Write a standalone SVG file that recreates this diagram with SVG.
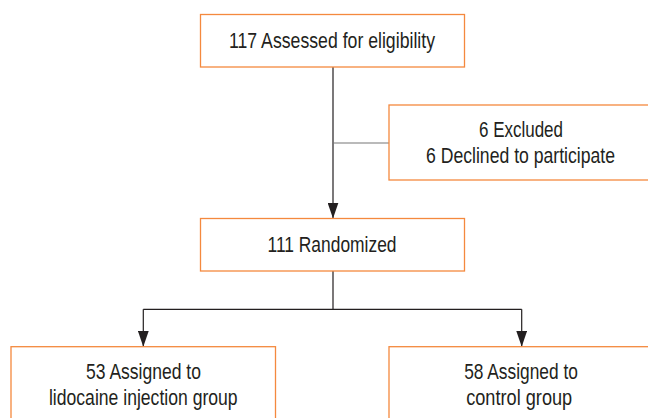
<svg xmlns="http://www.w3.org/2000/svg" width="648" height="418" viewBox="0 0 648 418">
<style>
.box{fill:#fff;stroke:#f4893e;stroke-width:1.3}
.t{font-family:"Liberation Sans",Arial,sans-serif;font-size:22.5px;fill:#231f20;text-anchor:middle}
.ln{fill:none;stroke:#231f20;stroke-width:1.2}
</style>
<defs>
<marker id="ah" markerUnits="userSpaceOnUse" markerWidth="16" markerHeight="11" refX="16" refY="5.5" orient="auto">
<path d="M0,0 L16,5.5 L0,11 z" fill="#231f20"/>
</marker>
</defs>
<rect width="648" height="418" fill="#fff"/>
<g id="connectors">
<path class="ln" d="M333,67 V218.5" marker-end="url(#ah)"/>
<path d="M333,143 H389" fill="none" stroke="#777" stroke-width="1.2"/>
<path class="ln" d="M333,271 V309.3 H143.3"/>
<path class="ln" d="M333,309.3 H521.7"/>
<path class="ln" d="M143.3,309.3 V346.7" marker-end="url(#ah)"/>
<path class="ln" d="M521.7,309.3 V346.7" marker-end="url(#ah)"/>
</g>
<g id="assessed">
<rect class="box" x="200.5" y="14.5" width="264" height="52.5"/>
<text class="t" x="332" y="48.3" textLength="206" lengthAdjust="spacingAndGlyphs">117 Assessed for eligibility</text>
</g>
<g id="excluded">
<rect class="box" x="389" y="105" width="264" height="75"/>
<text class="t" x="521" y="136.7" textLength="84" lengthAdjust="spacingAndGlyphs">6 Excluded</text>
<text class="t" x="520.5" y="162.7" textLength="189" lengthAdjust="spacingAndGlyphs">6 Declined to participate</text>
</g>
<g id="randomized">
<rect class="box" x="200.5" y="218.5" width="264" height="52.5"/>
<text class="t" x="332" y="252" textLength="129" lengthAdjust="spacingAndGlyphs">111 Randomized</text>
</g>
<g id="lidocaine">
<rect class="box" x="11" y="346.7" width="264.5" height="80"/>
<text class="t" x="143.5" y="379" textLength="115" lengthAdjust="spacingAndGlyphs">53 Assigned to</text>
<text class="t" x="143.3" y="405" textLength="188.7" lengthAdjust="spacingAndGlyphs">lidocaine injection group</text>
</g>
<g id="control">
<rect class="box" x="389" y="346.7" width="264" height="80"/>
<text class="t" x="521" y="379" textLength="113.7" lengthAdjust="spacingAndGlyphs">58 Assigned to</text>
<text class="t" x="519.2" y="405" textLength="106" lengthAdjust="spacingAndGlyphs">control group</text>
</g>
</svg>
